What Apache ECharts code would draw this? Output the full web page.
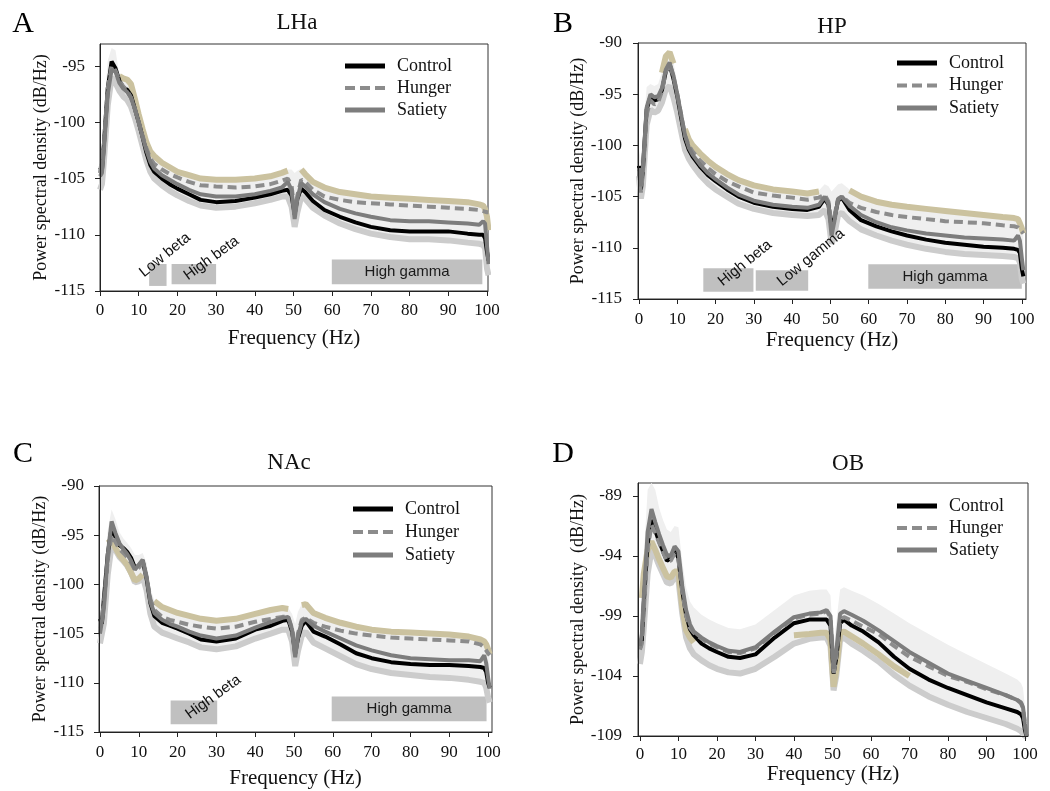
<!DOCTYPE html>
<html><head><meta charset="utf-8">
<script src="https://cdn.jsdelivr.net/npm/echarts@6/dist/echarts.min.js"></script>
<style>html,body{margin:0;padding:0;background:#fff}#c{width:1050px;height:791px}</style>
</head><body><div id="c"></div>
<script>
// ---------------- DATA ----------------
const freq = [0,0.5,1,2,3,4,5,6,7,8, 9,10,11,12,13,14,16,18,20,23, 26,30,35,40,44,47,48.5,49.5,50.3,51, 52,53,55,58,62,66,70,75,80,85, 90,95,98,99,99.5,100,100.4];
const xTicks = [0,10,20,30,40,50,60,70,80,90,100];
const yTicksA = [-115,-110,-105,-100,-95];
const yTicksB = [-115,-110,-105,-100,-95,-90];
const yTicksC = [-115,-110,-105,-100,-95,-90];
const yTicksD = [-109,-104,-99,-94,-89];
const seriesNames = ['Control','Hunger','Satiety'];
const panelTitles = ['LHa','HP','NAc','OB'];
const panelLetters = ['A','B','C','D'];

// A: LHa
const lhaControl = [-104.0,-104.3,-102.0,-97.0,-94.6,-95.2,-96.3,-96.9,-97.1,-97.6, -98.8,-100.0,-101.3,-102.7,-103.8,-104.4,-105.0,-105.5,-105.9,-106.4, -106.9,-107.1,-107.0,-106.7,-106.4,-106.1,-106.0,-106.5,-108.2,-106.8, -105.9,-106.2,-107.0,-107.8,-108.4,-108.9,-109.3,-109.6,-109.7,-109.7, -109.7,-109.9,-110.0,-110.0,-110.3,-111.5,-112.3];
const lhaHunger = [-104.5,-104.5,-102.0,-97.0,-95.0,-95.4,-96.3,-96.8,-97.2,-97.8, -98.8,-100.0,-101.2,-102.3,-103.2,-103.7,-104.2,-104.6,-104.9,-105.3, -105.6,-105.7,-105.8,-105.7,-105.5,-105.2,-105.0,-105.6,-108.2,-106.5, -105.1,-105.3,-106.0,-106.6,-106.9,-107.1,-107.2,-107.3,-107.4,-107.5, -107.6,-107.7,-107.8,-107.9,-108.0,-108.0,-108.0];
const lhaSatiety = [-104.8,-104.5,-102.5,-97.5,-95.3,-95.5,-96.5,-97.0,-97.3,-97.8, -98.8,-100.0,-101.3,-102.5,-103.5,-104.1,-104.7,-105.1,-105.5,-106.0, -106.4,-106.6,-106.6,-106.4,-106.1,-105.8,-105.3,-106.0,-108.6,-106.8, -105.4,-105.7,-106.4,-107.1,-107.7,-108.1,-108.4,-108.7,-108.8,-108.8, -108.9,-109.0,-109.1,-108.8,-109.0,-111.0,-112.6];
const lhaSemHigh = [-102.5,-102.0,-99.0,-94.5,-93.4,-93.6,-95.8,-96.0,-96.1,-96.5, -97.8,-99.2,-100.5,-101.7,-102.5,-102.9,-103.5,-103.9,-104.3,-104.6, -104.9,-105.0,-105.0,-104.9,-104.7,-104.4,-104.2,-104.2,-104.5,-104.3, -104.1,-104.5,-105.2,-105.7,-106.1,-106.3,-106.5,-106.6,-106.7,-106.8, -106.9,-107.0,-107.2,-107.3,-107.6,-108.3,-109.5];
const lhaSemLow = [-106.0,-105.5,-103.5,-98.5,-96.0,-96.5,-97.2,-97.7,-98.0,-98.6, -99.6,-100.8,-102.1,-103.4,-104.4,-105.0,-105.6,-106.1,-106.5,-107.0, -107.4,-107.6,-107.5,-107.2,-106.9,-106.6,-106.6,-107.5,-109.3,-108.0, -106.6,-106.8,-107.6,-108.3,-109.0,-109.5,-109.9,-110.2,-110.4,-110.4, -110.5,-110.7,-110.8,-110.9,-111.2,-113.0,-113.6];
const lhaTanEdge = [null,null,null,null,null,null,-95.9,-96.1,-96.2,-96.6, -97.9,-99.3,-100.6,-101.8,-102.6,-103.0,-103.6,-104.0,-104.4,-104.7, -105.0,-105.1,-105.1,-105.0,-104.8,-104.5,-104.3,null,null,null, -104.2,-104.6,-105.3,-105.8,-106.2,-106.4,-106.6,-106.7,-106.8,-106.9, -107.0,-107.1,-107.3,-107.4,-107.7,-108.4,-109.6];
const lhaBands = [
  {name:'Low beta', from:12.7, to:17.2, low:-114.55, high:-112.6},
  {name:'High beta', from:18.5, to:30.0, low:-114.4, high:-112.6},
  {name:'High gamma', from:59.9, to:98.8, low:-114.4, high:-112.2}
];
const lhaBandText = [
  {name:'Low beta', at:[16.8,-111.8], angle:39},
  {name:'High beta', at:[28.8,-112.1], angle:36}
];

// B: HP
const hpControl = [-102.0,-104.3,-102.5,-96.5,-95.2,-95.6,-95.5,-94.6,-92.8,-92.1, -93.5,-95.2,-97.3,-99.3,-100.4,-101.1,-102.1,-102.9,-103.5,-104.3, -105.0,-105.6,-106.0,-106.2,-106.3,-106.0,-105.2,-105.8,-108.0,-107.2, -105.4,-105.1,-106.3,-107.3,-107.9,-108.4,-108.8,-109.2,-109.5,-109.7, -109.9,-110.0,-110.1,-110.2,-110.5,-112.0,-112.8];
const hpHunger = [-102.5,-104.6,-102.8,-97.0,-95.6,-96.0,-95.8,-94.7,-92.8,-92.0, -93.3,-95.0,-97.0,-99.0,-100.0,-100.6,-101.5,-102.2,-102.8,-103.5, -104.0,-104.6,-104.9,-105.1,-105.3,-105.1,-104.8,-105.5,-108.0,-107.0, -105.2,-105.0,-105.6,-106.1,-106.5,-106.8,-107.0,-107.2,-107.4,-107.5, -107.6,-107.8,-107.9,-108.0,-108.2,-108.4,-108.6];
const hpSatiety = [-102.2,-104.0,-102.3,-96.3,-95.0,-95.3,-95.2,-94.4,-92.6,-91.9, -93.2,-95.0,-97.0,-99.0,-100.2,-100.9,-101.9,-102.7,-103.3,-104.1, -104.8,-105.4,-105.8,-106.0,-106.1,-105.8,-105.0,-105.7,-108.8,-107.5, -105.3,-105.0,-105.9,-106.8,-107.5,-108.0,-108.3,-108.6,-108.8,-109.0, -109.1,-109.2,-109.3,-108.8,-109.3,-111.0,-112.2];
const hpSemHigh = [-100.5,-101.5,-99.0,-94.3,-94.0,-94.2,-94.0,-92.8,-91.2,-90.8, -91.8,-94.0,-96.3,-98.3,-99.3,-99.9,-100.7,-101.4,-102.0,-102.7, -103.3,-103.8,-104.2,-104.4,-104.6,-104.4,-103.8,-104.0,-104.5,-104.2, -103.8,-103.7,-104.3,-104.9,-105.4,-105.7,-105.9,-106.1,-106.3,-106.5, -106.7,-106.9,-107.0,-107.1,-107.5,-108.0,-108.5];
const hpSemLow = [-103.0,-105.2,-104.0,-98.0,-96.5,-96.8,-96.6,-95.8,-94.5,-94.2, -95.3,-96.8,-98.6,-100.4,-101.3,-101.9,-102.9,-103.7,-104.3,-105.0, -105.7,-106.2,-106.6,-106.8,-106.9,-106.8,-106.3,-107.2,-109.6,-108.8, -106.8,-106.6,-107.4,-108.2,-108.8,-109.3,-109.7,-110.1,-110.4,-110.6, -110.7,-110.8,-110.9,-111.0,-111.4,-113.0,-113.5];
const hpTanEdge = [null,null,null,null,null,null,null,-92.9,-91.3,-90.9, -92.0,null,null,-98.4,-99.4,-100.0,-100.8,-101.5,-102.1,-102.8, -103.4,-103.9,-104.3,-104.5,-104.7,-104.5,null,null,null,null, null,null,-104.4,-105.0,-105.5,-105.8,-106.0,-106.2,-106.4,-106.6, -106.8,-107.0,-107.1,-107.2,-107.6,-108.1,-108.6];
const hpBands = [
  {name:'High beta', from:16.8, to:29.9, low:-114.3, high:-112.0},
  {name:'Low gamma', from:30.5, to:44.2, low:-114.2, high:-112.2},
  {name:'High gamma', from:59.9, to:100.0, low:-114.0, high:-111.6}
];
const hpBandText = [
  {name:'High beta', at:[27.7,-111.5], angle:39},
  {name:'Low gamma', at:[44.9,-110.95], angle:39}
];

// C: NAc
const nacControl = [-103.5,-104.0,-101.5,-97.0,-94.2,-95.2,-96.0,-96.3,-96.7,-97.3, -98.3,-98.1,-97.6,-99.4,-101.9,-103.2,-103.9,-104.2,-104.5,-105.0, -105.6,-105.8,-105.5,-104.6,-104.2,-103.7,-103.6,-104.8,-107.0,-105.5, -104.2,-103.7,-104.8,-105.3,-106.1,-107.0,-107.5,-107.9,-108.1,-108.2, -108.2,-108.3,-108.4,-108.5,-108.9,-110.0,-110.5];
const nacHunger = [-104.5,-104.5,-102.0,-97.5,-95.0,-95.7,-96.4,-96.8,-97.2,-97.8, -98.5,-98.3,-97.8,-99.3,-101.5,-102.6,-103.3,-103.6,-103.8,-104.1, -104.3,-104.5,-104.3,-103.8,-103.5,-103.3,-103.3,-104.5,-107.3,-105.0, -103.6,-103.4,-103.9,-104.3,-104.7,-105.0,-105.2,-105.4,-105.5,-105.6, -105.7,-105.8,-106.1,-106.4,-106.7,-107.0,-107.2];
const nacSatiety = [-105.0,-104.8,-102.5,-97.0,-93.6,-94.8,-95.8,-96.4,-96.9,-97.6, -98.5,-98.0,-97.5,-99.2,-101.8,-102.9,-103.6,-104.0,-104.3,-104.8, -105.2,-105.5,-105.2,-104.4,-103.8,-103.4,-103.3,-104.6,-107.4,-105.3, -103.8,-103.5,-104.2,-104.8,-105.5,-106.2,-106.7,-107.2,-107.5,-107.6, -107.7,-107.7,-107.8,-107.2,-108.0,-109.5,-110.6];
const nacSemHigh = [-100.0,-101.5,-99.0,-94.5,-92.4,-93.4,-94.7,-95.3,-95.8,-96.3, -97.0,-97.0,-96.8,-97.8,-100.5,-101.6,-102.2,-102.5,-102.8,-103.1, -103.4,-103.6,-103.4,-102.9,-102.5,-102.3,-102.4,-103.0,-104.0,-102.8, -102.0,-101.9,-102.8,-103.3,-103.8,-104.2,-104.5,-104.7,-104.8,-104.9, -105.0,-105.2,-105.5,-105.7,-106.0,-106.5,-107.0];
const nacSemLow = [-106.0,-105.8,-104.0,-99.0,-96.0,-96.5,-97.2,-97.6,-98.1,-98.8, -99.8,-99.7,-99.2,-100.6,-103.0,-104.3,-104.9,-105.2,-105.5,-105.9, -106.4,-106.6,-106.3,-105.5,-105.0,-104.6,-104.6,-105.8,-108.3,-106.8, -105.2,-104.8,-105.9,-106.5,-107.3,-108.1,-108.6,-109.0,-109.2,-109.4, -109.5,-109.7,-109.9,-110.0,-110.5,-111.5,-112.0];
const nacTanEdge = [null,null,null,-95.8,-95.5,-96.3,-97.0,-97.5,-98.0,-98.8, -99.6,-99.4,-99.0,null,null,-101.7,-102.3,-102.6,-102.9,-103.2, -103.5,-103.7,-103.5,-103.0,-102.6,-102.4,-102.5,null,null,null, -102.1,-102.0,-102.9,-103.4,-103.9,-104.3,-104.6,-104.8,-104.9,-105.0, -105.1,-105.3,-105.6,-105.8,-106.1,-106.6,-107.1];
const nacBands = [
  {name:'High beta', from:18.2, to:30.2, low:-114.2, high:-111.8},
  {name:'High gamma', from:59.7, to:99.6, low:-113.9, high:-111.4}
];
const nacBandText = [
  {name:'High beta', at:[29.2,-111.45], angle:36}
];

// D: OB
const obControl = [-101.7,-101.0,-98.0,-93.0,-91.0,-91.9,-92.8,-93.6,-94.4,-94.2, -93.4,-94.2,-96.9,-98.9,-100.1,-100.6,-101.3,-101.7,-102.0,-102.4, -102.5,-102.2,-100.8,-99.6,-99.3,-99.3,-99.3,-99.8,-103.8,-102.5, -99.6,-99.3,-99.8,-100.3,-101.2,-102.4,-103.4,-104.3,-105.0,-105.6, -106.2,-106.7,-107.0,-107.2,-107.5,-108.5,-109.0];
const obHunger = [-101.8,-101.3,-98.5,-93.5,-91.4,-92.1,-92.9,-93.7,-94.4,-94.4, -93.8,-94.3,-97.0,-99.0,-100.0,-100.4,-100.9,-101.3,-101.6,-102.0, -102.1,-101.7,-100.4,-99.2,-98.9,-98.8,-98.6,-99.1,-103.9,-102.4, -99.3,-99.1,-99.4,-99.9,-100.5,-101.5,-102.4,-103.2,-104.0,-104.5, -105.1,-105.6,-106.0,-106.3,-106.7,-108.0,-108.8];
const obSatiety = [-101.5,-100.5,-97.5,-92.0,-90.1,-91.2,-92.2,-93.1,-93.9,-94.0, -93.2,-93.6,-96.5,-98.5,-99.7,-100.3,-100.8,-101.2,-101.5,-101.9, -102.0,-101.6,-100.3,-99.1,-98.8,-98.7,-98.5,-99.0,-103.4,-102.0, -98.8,-98.6,-98.9,-99.4,-100.2,-101.1,-102.0,-102.9,-103.8,-104.4, -105.0,-105.6,-106.0,-106.2,-106.6,-108.0,-109.0];
const obSemHigh = [-99.0,-97.5,-94.0,-88.5,-87.9,-88.5,-90.0,-91.0,-91.8,-92.0, -91.5,-91.6,-94.5,-96.6,-97.8,-98.3,-98.9,-99.3,-99.6,-100.0, -100.1,-99.7,-98.5,-97.3,-96.9,-96.8,-96.8,-97.3,-101.5,-99.5, -96.8,-96.6,-96.9,-97.3,-98.0,-98.8,-99.6,-100.5,-101.4,-102.2, -103.0,-103.8,-104.3,-104.6,-105.0,-106.5,-107.5];
const obSemLow = [-103.0,-102.0,-100.0,-95.5,-93.5,-94.0,-94.8,-95.5,-96.2,-96.3, -95.8,-96.0,-98.8,-100.8,-101.7,-102.2,-102.7,-103.1,-103.4,-103.7, -103.8,-103.4,-102.4,-101.3,-100.9,-100.8,-100.8,-101.5,-105.2,-104.0, -101.0,-100.8,-101.3,-101.9,-102.8,-103.9,-104.8,-105.7,-106.4,-107.0, -107.5,-108.0,-108.4,-108.6,-108.8,-109.0,-109.0];
const obTanEdge = [null,-97.5,-95.5,-93.5,-92.8,-93.5,-94.3,-95.0,-95.7,-95.8, -95.3,-95.3,-98.3,-100.2,-100.8,-101.2,null,null,null,null, null,null,null,-100.6,-100.5,-100.4,-100.4,-101.0,-104.9,-103.5, -100.4,-100.3,-100.7,-101.3,-102.2,-103.2,-104.0,null,null,null, null,null,null,null,null,null,null];
const obBands = [];
const obBandText = [];

// ---------------- LAYOUT ----------------
const SERIF = '"Liberation Serif","Times New Roman",serif';
const SANS = '"Liberation Sans",Arial,sans-serif';
const panels = [
  {series:[lhaControl,lhaHunger,lhaSatiety], hi:lhaSemHigh, lo:lhaSemLow, tan:lhaTanEdge, bands:lhaBands, bandText:lhaBandText, yTicks:yTicksA,
   grid:{left:100,top:44,width:388,height:247}, x:[0,100.26], y:[-115,-93.04], xGap:37, yGap:47, xMargin:11, yMargin:15,
   legend:{left:345,top:57,gap:4}, title:[297,23], letter:[23,24], yName:'Power spectral density (dB/Hz)'},
  {series:[hpControl,hpHunger,hpSatiety], hi:hpSemHigh, lo:hpSemLow, tan:hpTanEdge, bands:hpBands, bandText:hpBandText, yTicks:yTicksB,
   grid:{left:638,top:43,width:388,height:256}, x:[-0.26,101.1], y:[-115,-90], xGap:31, yGap:49, xMargin:12, yMargin:16,
   legend:{left:897,top:54,gap:4.5}, title:[832,27], letter:[563,24], yName:'Power spectral density (dB/Hz)'},
  {series:[nacControl,nacHunger,nacSatiety], hi:nacSemHigh, lo:nacSemLow, tan:nacTanEdge, bands:nacBands, bandText:nacBandText, yTicks:yTicksC,
   grid:{left:99,top:486,width:393,height:246}, x:[-0.25,101], y:[-115,-90], xGap:36, yGap:47, xMargin:12, yMargin:15,
   legend:{left:353,top:500,gap:5}, title:[289,463], letter:[23,454], yName:'Power spectral density (dB/Hz)'},
  {series:[obControl,obHunger,obSatiety], hi:obSemHigh, lo:obSemLow, tan:obTanEdge, bands:obBands, bandText:obBandText, yTicks:yTicksD,
   grid:{left:638,top:483,width:390,height:253}, x:[-0.5,100.8], y:[-109,-87.92], xGap:28, yGap:49, xMargin:10, yMargin:16,
   legend:{left:897,top:497,gap:4}, title:[848,464], letter:[563,454], yName:'Power spectral density  (dB/Hz)'}
];
const lineStyles = [
  {color:'#000000', width:4, type:'solid'},
  {color:'#8c8c8c', width:4, type:[9,5]},
  {color:'#7d7d7d', width:4, type:'solid'}
];
const legendIcons = ['rect', 'path://M0,0h10v4h-10z M15,0h10v4h-10z M30,0h10v4h-10z', 'rect'];

const pts = arr => freq.map((f,i) => [f, arr[i] == null ? '-' : arr[i]]);

const grids = [], xAxes = [], yAxes = [], series = [], legends = [], graphics = [];
panels.forEach((p, i) => {
  grids.push(Object.assign({show:true, borderColor:'#333', borderWidth:1, backgroundColor:'transparent'}, p.grid));
  xAxes.push({type:'value', gridIndex:i, min:p.x[0], max:p.x[1], z:10,
    axisLine:{show:true, onZero:false, lineStyle:{color:'#222', width:1}},
    axisTick:{show:true, inside:false, length:5, customValues:xTicks, lineStyle:{color:'#222'}},
    axisLabel:{customValues:xTicks, margin:p.xMargin, fontFamily:SERIF, fontSize:17, color:'#111'},
    splitLine:{show:false},
    name:'Frequency (Hz)', nameLocation:'middle', nameGap:p.xGap,
    nameTextStyle:{fontFamily:SERIF, fontSize:21, color:'#111'}});
  yAxes.push({type:'value', gridIndex:i, min:p.y[0], max:p.y[1], z:10,
    axisLine:{show:true, onZero:false, lineStyle:{color:'#222', width:1}},
    axisTick:{show:true, inside:false, length:5, customValues:p.yTicks, lineStyle:{color:'#222'}},
    axisLabel:{customValues:p.yTicks, margin:p.yMargin, fontFamily:SERIF, fontSize:17, color:'#111'},
    splitLine:{show:false},
    name:p.yName, nameLocation:'middle', nameGap:p.yGap,
    nameTextStyle:{fontFamily:SERIF, fontSize:18, color:'#111'}});
  const ax = {xAxisIndex:i, yAxisIndex:i};
  // SEM envelope: polygon between the low and high edges, placed through the axes
  series.push(Object.assign({type:'custom', name:'semFill'+i, coordinateSystem:'cartesian2d', silent:true, z:1, clip:true,
    data:[[freq[0], p.lo[0]]],
    renderItem:(params, api) => {
      const up = freq.map((f,k) => api.coord([f, p.hi[k]]));
      const dn = freq.map((f,k) => api.coord([f, p.lo[k]])).reverse();
      return {type:'polygon', shape:{points:up.concat(dn)}, style:{fill:'#efefef'}};
    }}, ax));
  // SEM edges
  series.push(Object.assign({type:'line', name:'semLowEdge'+i, data:pts(p.lo), symbol:'none',
    lineStyle:{color:'#cccccc', width:6}, silent:true, z:2}, ax));
  series.push(Object.assign({type:'line', name:'semTanEdge'+i, data:pts(p.tan), symbol:'none', connectNulls:false,
    lineStyle:{color:'#cbc29f', width:6}, silent:true, z:2}, ax));
  // frequency bands
  const rotatedNames = p.bandText.map(t => t.name);
  series.push(Object.assign({type:'line', name:'bands'+i, data:pts(p.lo), symbol:'none', lineStyle:{opacity:0}, silent:true, z:3,
    markArea:{silent:true, itemStyle:{color:'#c0c0c0'},
      data:p.bands.map(b => [
        {name:b.name, xAxis:b.from, yAxis:b.high,
         label:{show:!rotatedNames.includes(b.name), position:'inside', fontFamily:SANS, fontSize:15, color:'#1a1a1a'}},
        {xAxis:b.to, yAxis:b.low}])}}, ax));
  // mean lines
  p.series.forEach((arr, k) => {
    series.push(Object.assign({type:'line', name:seriesNames[k], data:pts(arr), symbol:'none',
      lineStyle:lineStyles[k], itemStyle:{color:lineStyles[k].color}, silent:true, z:4}, ax));
  });
  // rotated band labels
  if (p.bandText.length) {
    series.push(Object.assign({type:'scatter', name:'bandText'+i, symbolSize:1, itemStyle:{color:'#ffffff', opacity:0}, silent:true, z:6,
      data:p.bandText.map(t => ({name:t.name, value:t.at, label:{rotate:t.angle}})),
      label:{show:true, position:'inside', formatter:'{b}', fontFamily:SANS, fontSize:15, color:'#111111',
        opacity:1, textBorderWidth:0}}, ax));
  }
  legends.push({data:seriesNames.map((n,k) => ({name:n, icon:legendIcons[k]})), orient:'vertical',
    left:p.legend.left, top:p.legend.top, itemGap:p.legend.gap, padding:0,
    itemWidth:40, itemHeight:5, selectedMode:false,
    textStyle:{fontFamily:SERIF, fontSize:18, color:'#111', padding:[0,0,0,7], lineHeight:18}});
  graphics.push({type:'text', x:p.title[0], y:p.title[1], silent:true,
    style:{text:panelTitles[i], fontFamily:SERIF, fontSize:23, fill:'#111', align:'center', verticalAlign:'middle'}});
  graphics.push({type:'text', x:p.letter[0], y:p.letter[1], silent:true,
    style:{text:panelLetters[i], fontFamily:SERIF, fontSize:30, fill:'#000', align:'center', verticalAlign:'middle'}});
});

const chart = echarts.init(document.getElementById('c'), null, {renderer:'canvas'});
chart.setOption({
  animation:false,
  backgroundColor:'#ffffff',
  grid:grids, xAxis:xAxes, yAxis:yAxes, series:series, legend:legends, graphic:graphics
});
</script>
</body></html>
